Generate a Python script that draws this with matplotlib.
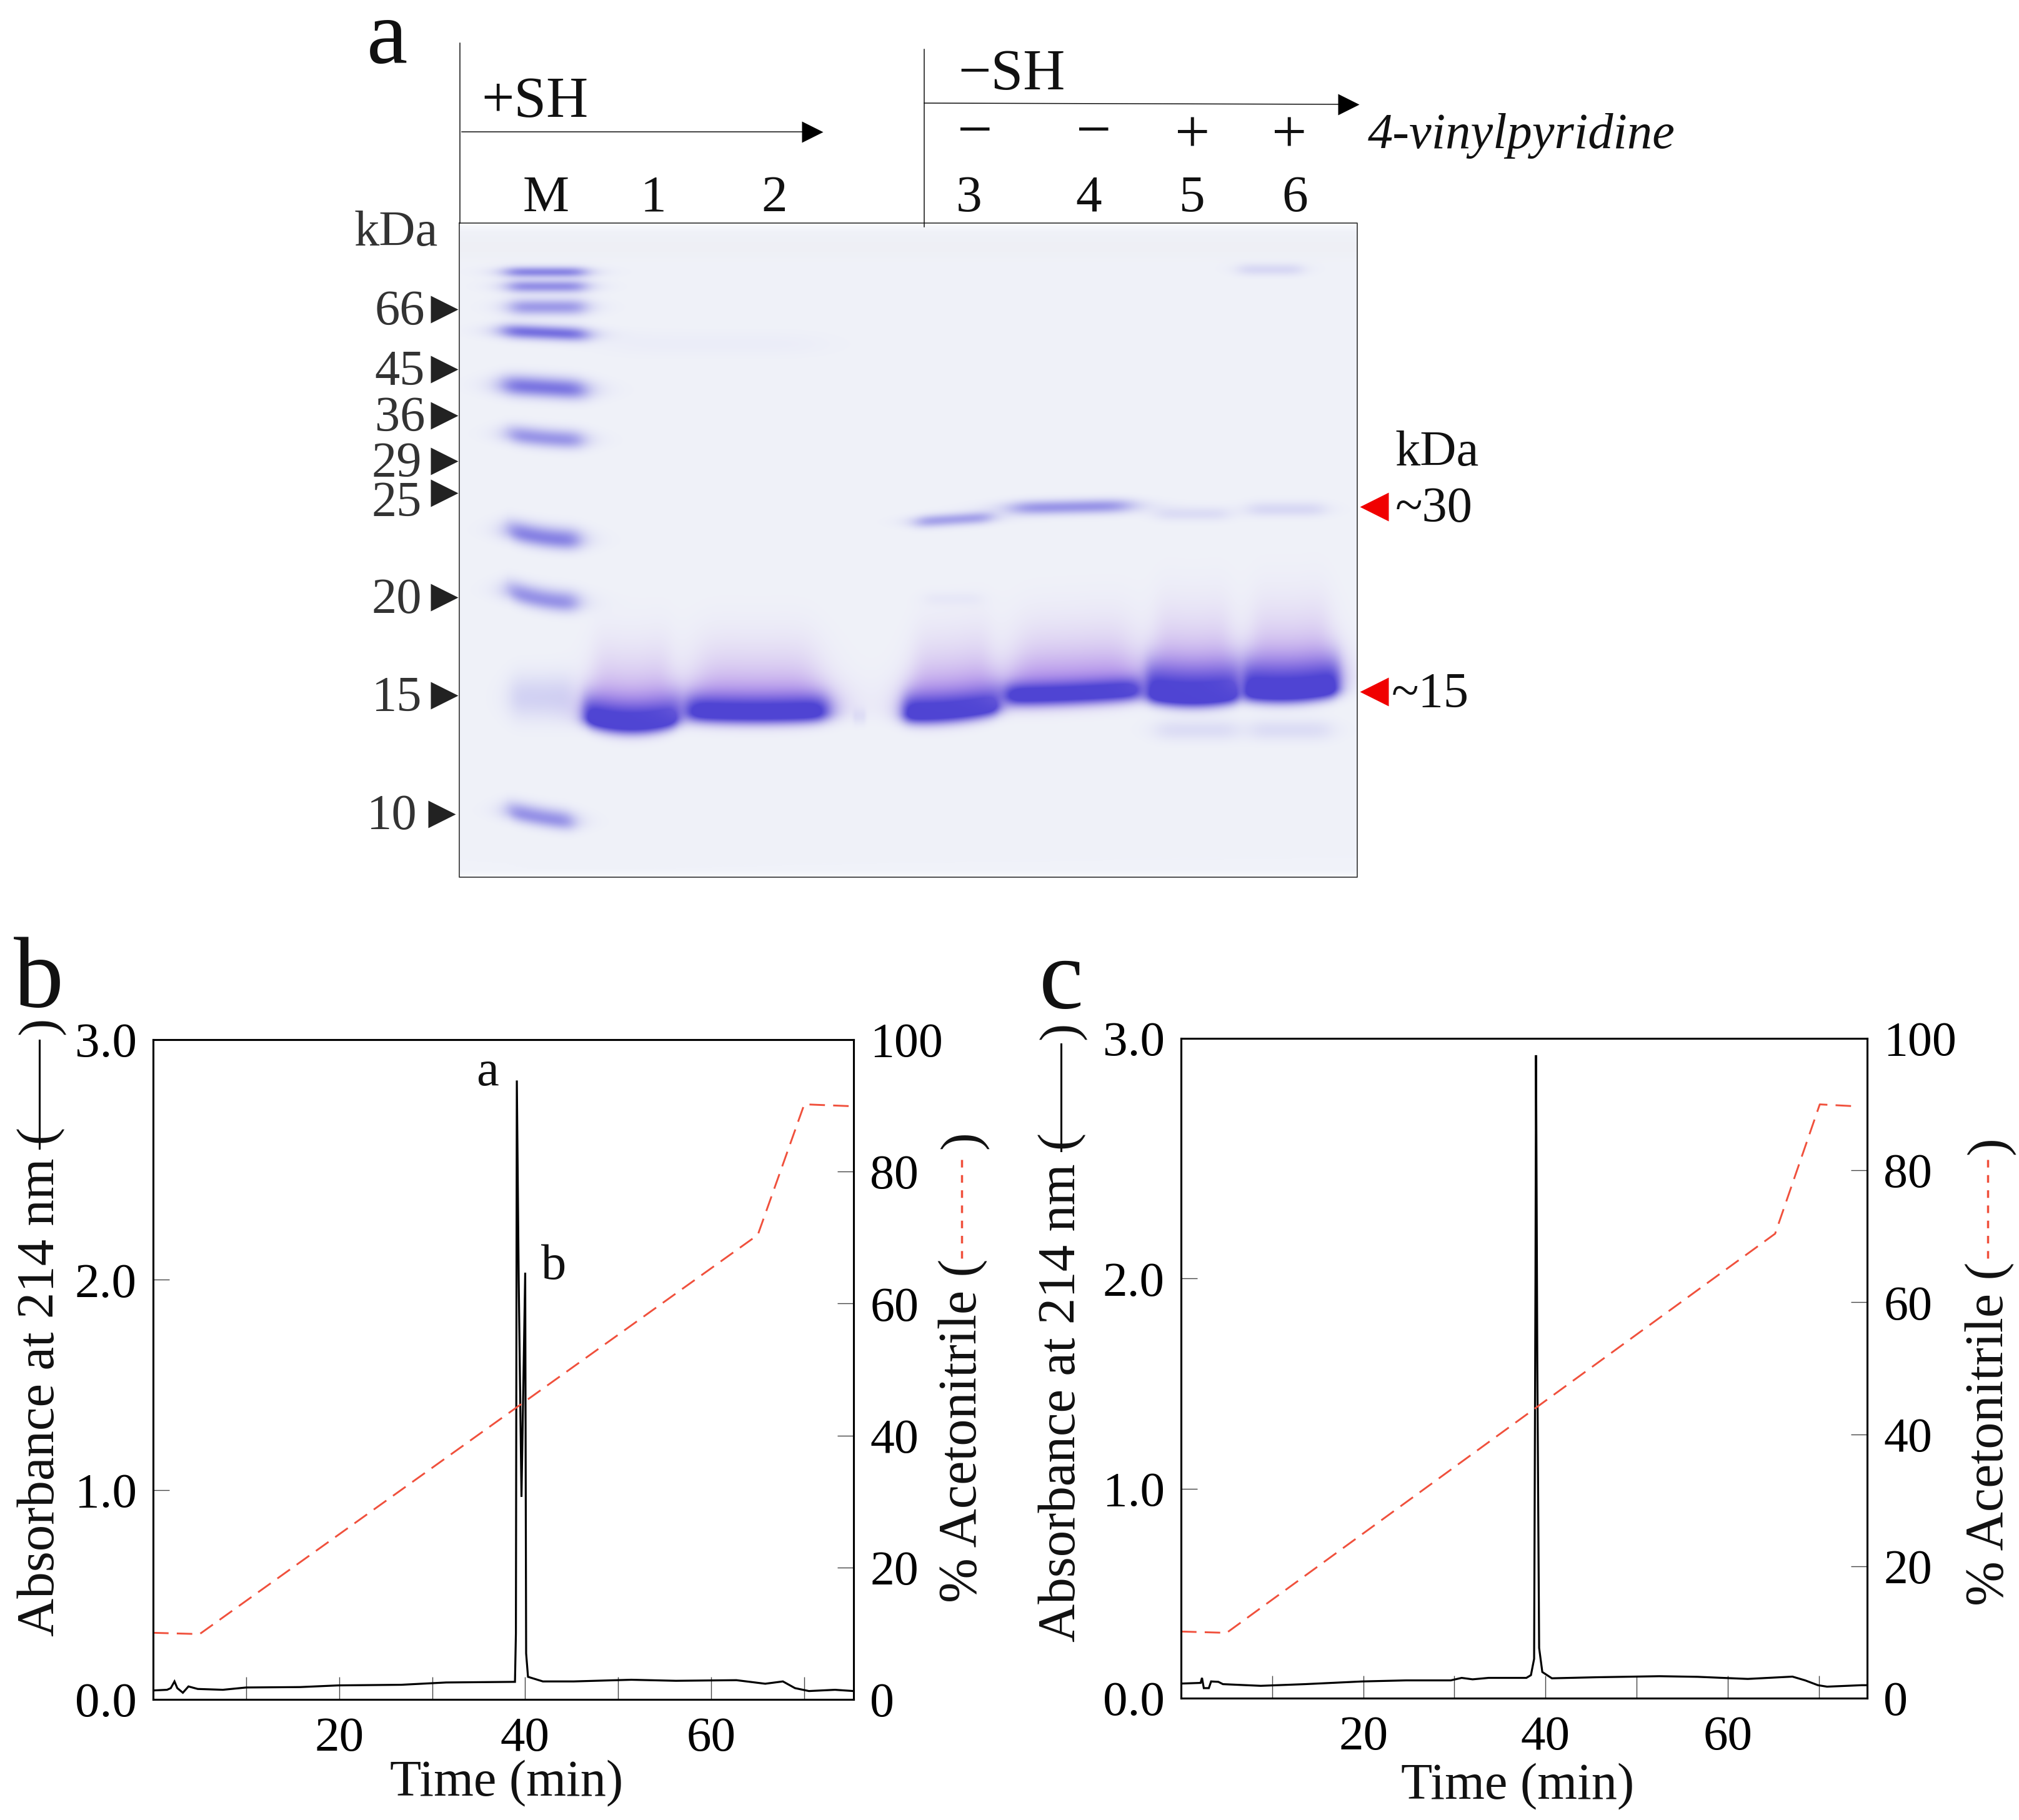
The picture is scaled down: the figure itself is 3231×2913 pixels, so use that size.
import matplotlib
matplotlib.use("Agg")
import matplotlib.pyplot as plt
import numpy as np

plt.rcParams['font.family'] = ['Liberation Serif', 'DejaVu Serif']

W, H = 3231, 2913

# chromatogram b: time (min), absorbance
b_time = [0.07, 1.5, 1.9, 2.3, 2.6, 3.2, 3.8, 4.8, 7.5, 10, 15.8, 19.9, 26.7, 31.5, 38.9, 39.0, 39.1,
          39.3, 39.6, 40.0, 40.1, 40.3, 41.9, 45.2, 51.4, 56.2, 62.7, 65.8, 67.7, 69, 70.5, 73.3, 75.3]
b_abs = [0.043, 0.046, 0.054, 0.086, 0.054, 0.032, 0.062, 0.05, 0.046, 0.057, 0.059, 0.067, 0.07, 0.081,
         0.084, 0.315, 2.83, 2.0, 0.968, 2.03, 0.22, 0.108, 0.086, 0.086, 0.094, 0.089, 0.092, 0.075,
         0.086, 0.054, 0.04, 0.046, 0.04]
b_acn_time = [0, 5, 65, 70, 75.3]
b_acn = [10.1, 9.9, 70.4, 90.2, 89.9]

# chromatogram c
c_time = [0.14, 2.15, 2.3, 2.5, 3.05, 3.3, 4.1, 4.6, 8.75, 13.6, 19.9, 24.7, 29.6, 30.8, 32, 33.75, 37.9,
          38.4, 38.75, 38.9, 38.96, 39.1, 39.3, 39.65, 40.7, 45.6, 52.5, 56.7, 62.2, 67.1, 68.5, 69.9,
          70.9, 74.7, 75.3]
c_abs = [0.07, 0.073, 0.097, 0.048, 0.048, 0.08, 0.078, 0.067, 0.059, 0.067, 0.08, 0.085, 0.085, 0.097,
         0.09, 0.097, 0.097, 0.11, 0.188, 2.0, 2.93, 1.6, 0.24, 0.125, 0.095, 0.1, 0.105, 0.102, 0.092,
         0.103, 0.085, 0.062, 0.055, 0.062, 0.062]
c_acn_time = [0, 5, 65.2, 70.1, 74.2]
c_acn = [10.1, 9.9, 70.4, 90, 89.7]

x_ticks = [10, 20, 30, 40, 50, 60, 70]
x_labels = ['', '20', '', '40', '', '60', '']
abs_ticks = [0, 1, 2, 3]
abs_labels = ['0.0', '1.0', '2.0', '3.0']
acn_ticks = [0, 20, 40, 60, 80, 100]

# gel: marker sizes and their labels
marker_labels = ['66', '45', '36', '29', '25', '20', '15', '10']
lane_labels = ['M', '1', '2', '3', '4', '5', '6']

# the printed left axis is not evenly spaced: 3.0 sits higher than 0-2 would give
abs_pos = [0, 371, 744, 1170]


def abs_forward(v):
    return np.interp(v, abs_ticks, abs_pos)


def abs_inverse(v):
    return np.interp(v, abs_pos, abs_ticks)


fig = plt.figure(figsize=(W / 100, H / 100), dpi=100, facecolor='white')

red_line = '#f0503c'


def px_axes(left, right, top, bottom):
    return fig.add_axes([left / W, 1 - bottom / H, (right - left) / W, (bottom - top) / H])


def chrom_panel(box, t, a, acn_t, acn):
    ax = px_axes(*box)
    ax.set_yscale('function', functions=(abs_forward, abs_inverse))
    ax.plot(t, a, color='black', lw=2.3, solid_joinstyle='miter', zorder=3)
    ax.set_xlim(0, 75.3)
    ax.set_ylim(0, 3)
    ax.set_xticks(x_ticks)
    ax.set_xticklabels(x_labels)
    ax.set_yticks(abs_ticks)
    ax.set_yticklabels(abs_labels)
    ax.minorticks_off()
    ax.tick_params(axis='x', direction='in', length=26, width=1, color='#444444', labelsize=57, pad=20)
    ax.tick_params(axis='y', direction='in', length=19, width=1, color='#444444', labelsize=57, pad=19)

    ax2 = ax.twinx()
    ax2.plot(acn_t, acn, color=red_line, lw=2.1, ls=(0, (8.5, 4.5)), zorder=2)
    ax2.set_ylim(0, 100)
    ax2.set_yticks(acn_ticks)
    ax2.tick_params(axis='y', direction='in', length=19, width=1, color='#444444', labelsize=56, pad=19)
    for a_ in (ax, ax2):
        for s in a_.spines.values():
            s.set_linewidth(2.2)
    return ax


chrom_panel((245, 1366, 1664, 2720), b_time, b_abs, b_acn_time, b_acn)
chrom_panel((1890, 2988, 1662, 2718), c_time, c_abs, c_acn_time, c_acn)

# pixel overlay for the gel and all loose labels
ov = fig.add_axes([0, 0, 1, 1])
ov.set_xlim(0, W)
ov.set_ylim(H, 0)
ov.axis('off')
ov.patch.set_alpha(0)

# gel bands: x0, x1, y, strength, sigma up, sigma down, curve, tilt
marker_bands = [
    (808, 937, 435, 0.68, 6, 6, 0, 0),
    (812, 937, 458, 0.62, 7, 7, 0, 0),
    (815, 937, 491, 0.55, 9, 9, 0, 0),
    (803, 940, 532, 0.82, 8, 8, 0, 3),
    (803, 937, 620, 0.78, 12, 11, 0, 4),
    (812, 933, 699, 0.58, 11, 10, 2, 5),
    (812, 928, 856, 0.70, 13, 11, 4, 8),
    (812, 925, 954, 0.60, 13, 11, 5, 10),
    (815, 918, 1116, 0.20, 26, 24, 0, 0),
    (812, 918, 1306, 0.60, 12, 10, 2, 9),
]
upper_bands = [
    (1465, 1588, 831, 0.50, 7, 7, 0, -4),
    (1617, 1809, 811, 0.58, 8, 8, 0, -2),
    (1849, 1966, 822, 0.13, 8, 8, 0, 0),
    (1996, 2120, 815, 0.16, 9, 8, 0, 0),
    (1981, 2084, 431, 0.16, 7, 7, 0, 0),
    (1849, 1980, 1168, 0.13, 12, 12, 0, 0),
    (2000, 2130, 1168, 0.13, 12, 12, 0, 0),
    (1365, 1385, 1146, 0.10, 9, 9, 0, 0),
    (968, 1320, 550, 0.03, 14, 14, 0, 0),
    (1480, 1570, 958, 0.05, 8, 8, 0, 0),
]
# main bands: x0, x1, y of the core, sigma of the smear above, curve, tilt, sigma of the core above
main_bands = [
    (935, 1087, 1146, 36, 12, 0, 22),
    (1098, 1323, 1138, 34, 3, 0, 18),
    (1446, 1600, 1134, 38, 5, -7, 20),
    (1607, 1827, 1108, 36, 2, -5, 14),
    (1834, 1984, 1108, 42, 8, 0, 30),
    (1988, 2142, 1102, 42, 7, -3, 30),
]

gx0, gx1, gy0, gy1 = 735, 2172, 357, 1404
xx, yy = np.meshgrid(np.arange(gx0, gx1, dtype=float), np.arange(gy0, gy1, dtype=float))
bg = np.array([240, 242, 249], dtype=float) / 255
img = np.ones(xx.shape + (3,)) * bg

# pale upper strip and whiter rim of the scan
strip = np.exp(-((yy - 395) / 22) ** 2)[..., None] * 0.18
img = img * (1 - strip) + np.array([0.90, 0.90, 0.90]) * strip
rim = np.clip(1 - np.minimum(yy - gy0, gy1 - yy) / 14, 0, 1)[..., None] * 0.6
img = img * (1 - rim) + rim


def band_mask(x0, x1, y, su, sd, curve, tilt=0, soft=0.16):
    xc, hw = (x0 + x1) / 2, (x1 - x0) / 2
    u = (xx - xc) / hw
    edge = 1 / (1 + np.abs(u) ** (1 / soft))
    dy = yy - (y + curve * (1 - np.clip(u, -1, 1) ** 2) + tilt * np.clip(u, -1, 1))
    sig = np.where(dy < 0, su, sd)
    return edge * np.exp(-0.5 * (dy / sig) ** 2)


def lay(img, mask, color):
    m = np.clip(mask, 0, 1)[..., None]
    return img * (1 - m) + np.array(color) * m


for x0, x1, y, s, su, sd, c, t in marker_bands + upper_bands:
    img = lay(img, s * band_mask(x0, x1, y, su, sd, c, t), (0.36, 0.33, 0.86))
for x0, x1, y, su, c, t, core in main_bands:
    # broad pink-violet smear then the dense core
    img = lay(img, 0.9 * band_mask(x0 + 16, x1 - 16, y - core, su + 26, 20, c, t), (0.80, 0.71, 0.93))
    img = lay(img, 0.95 * band_mask(x0 + 6, x1 - 6, y - core * 0.6, su * 0.8, 16, c, t), (0.68, 0.54, 0.92))
    img = lay(img, 1.35 * band_mask(x0, x1, y, core, 11, c, t, soft=0.08), (0.31, 0.27, 0.83))

ov.imshow(img, extent=(gx0, gx1, gy1, gy0), aspect='auto', interpolation='bilinear', zorder=1)
ov.set_xlim(0, W)
ov.set_ylim(H, 0)
ov.plot([gx0, gx1, gx1, gx0, gx0], [gy0, gy0, gy1, gy1, gy0], color='#333333', lw=1.2, zorder=2)

ink = '#111111'
grey = '#333333'
ov.plot([736, 736], [69, 357], color=ink, lw=1.1)
ov.plot([1479, 1479], [79, 363], color=ink, lw=1.1)
ov.plot([739, 1290], [211, 211], color=ink, lw=1.1)
ov.plot([1479, 2150], [165, 167], color=ink, lw=1.1)
ov.plot([1300], [211], marker='>', ms=25, color='black', mec='none')
ov.plot([2158], [167], marker='>', ms=25, color='black', mec='none')


def say(x, y, s, size=56, ha='center', va='center', color=ink, **kw):
    # centred text sits a little high in this font, nudge it down
    ov.text(x, y + 11, s, fontsize=size, ha=ha, va=va, color=color, zorder=5, **kw)


def say_up(x, y, s, size=62, va='bottom', color=ink):
    ov.text(x, y, s, fontsize=size, ha='center', va=va, color=color, rotation=90, zorder=5)


ov.text(620, 101, 'a', fontsize=106, ha='center', va='baseline', color=ink, zorder=5)
say(62, 1561, 'b', 115)
say(1698, 1563, 'c', 115)

say(856, 153, '+SH', 67)
say(1619, 109, '\u2212SH', 67)
for x, s in zip([1559, 1749, 1908, 2063], ['\u2212', '\u2212', '+', '+']):
    say(x, 205 if s != '+' else 210, s, 72)
say(2189, 207, '4-vinylpyridine', 58, ha='left', style='italic')
for x, s in zip([874, 1045, 1239, 1551, 1742, 1908, 2072], lane_labels):
    say(x, 307, s, 60)
say(634, 363, 'kDa', 58, color=grey)

for y, s, tx in zip([489, 585, 659, 732, 795, 950, 1107, 1297], marker_labels,
                    [680, 680, 680, 675, 675, 675, 675, 668]):
    say(tx, y, s, 58, ha='right', color=grey)
for y, tx in zip([495, 591, 665, 738, 789, 956, 1113, 1303],
                 [711, 711, 711, 711, 711, 711, 711, 707]):
    ov.plot([tx], [y], marker='>', ms=31, color='#222222', mec='none')

say(2300, 714, 'kDa', 58)
for y, s, tx in zip([811, 1107], ['~30', '~15'], [2233, 2227]):
    ov.plot([2199], [y], marker='<', ms=33, color='#f00000', mec='none')
    say(tx, y - 6, s, 58, ha='left')

# peak letters
say(780, 1706, 'a', 58)
say(886, 2016, 'b', 58)

# axis titles, with the line keys drawn between the brackets
say(811, 2844, 'Time (min)', 59)
say(2429, 2849, 'Time (min)', 59)

say_up(66, 2619, 'Absorbance at 214 nm (', 61)
say_up(66, 1642, ')', 61, va='center')
ov.plot([63, 63], [1665, 1838], color='black', lw=2.2)
say_up(1700, 2628, 'Absorbance at 214 nm (', 61)
say_up(1700, 1650, ')', 61, va='center')
ov.plot([1698, 1698], [1671, 1842], color='black', lw=2.2)

say_up(1542, 2565, '% Acetonitrile (', 62)
say_up(1542, 1825, ')', 62, va='center')
ov.plot([1539, 1539], [1856, 2023], color=red_line, lw=2.5, ls=(0, (3.5, 3.5)))
say_up(3185, 2570, '% Acetonitrile (', 62)
say_up(3185, 1834, ')', 62, va='center')
ov.plot([3181, 3181], [1856, 2019], color=red_line, lw=2.5, ls=(0, (3.5, 3.5)))

fig.savefig('out.png', dpi=100, facecolor='white')
